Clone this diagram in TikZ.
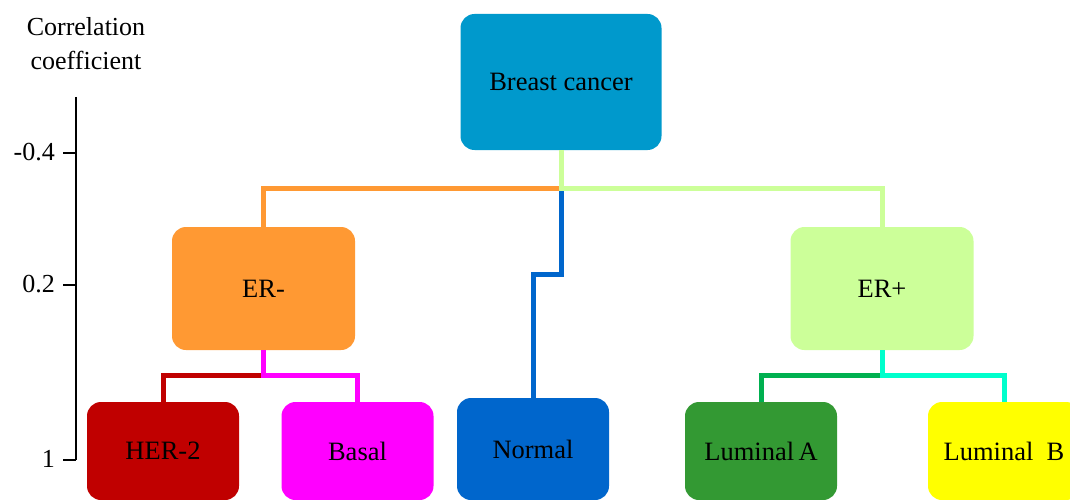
\documentclass[tikz,border=0pt]{standalone}
\usepackage{fontspec}
\setmainfont{Liberation Serif}
\definecolor{cBC}{HTML}{0099CC}
\definecolor{cERn}{HTML}{FF9933}
\definecolor{cERp}{HTML}{CCFF99}
\definecolor{cHER}{HTML}{C00000}
\definecolor{cBas}{HTML}{FF00FF}
\definecolor{cNor}{HTML}{0066CC}
\definecolor{cLA}{HTML}{339933}
\definecolor{cLB}{HTML}{FFFF00}
\definecolor{cLAline}{HTML}{00B050}
\definecolor{cLBline}{HTML}{00FFCC}
\begin{document}
\begin{tikzpicture}[x=1pt,y=-1pt,
  box/.style={rounded corners=14pt, inner sep=0pt, font=\fontsize{26.5}{30}\selectfont, text=black},
  bigbox/.style={box, minimum width=183pt, minimum height=123pt},
  leafbox/.style={box, minimum width=152pt, minimum height=98pt},
  conn/.style={line width=5pt},
  axisline/.style={line width=1.6pt, black},
  ticklabel/.style={anchor=east, inner sep=0pt, font=\fontsize{26}{30}\selectfont}]
\useasboundingbox (0,0) rectangle (1070,500);
\fill[white] (0,0) rectangle (1070,500);

% axis
\draw[axisline] (76,97) -- (76,460);
\draw[axisline] (63,153) -- (76,153);
\draw[axisline] (63,285) -- (76,285);
\draw[axisline] (63,460) -- (76,460);
\node[ticklabel] (t1) at (55,152) {-0.4};
\node[ticklabel] (t2) at (55,284) {0.2};
\node[ticklabel] (t3) at (55,459) {1};
\node[align=center, inner sep=0pt, font=\fontsize{26}{34}\selectfont] (ax) at (86,44) {Correlation\\coefficient};

% nodes
\node[box, fill=cBC, minimum width=201pt, minimum height=136pt] (bc) at (561,82) {Breast cancer};
\node[bigbox, fill=cERn] (ern) at (263.5,288.5) {ER-};
\node[bigbox, fill=cERp] (erp) at (882,288.5) {ER+};
\node[leafbox, fill=cHER] (her) at (163,451) {HER-2};
\node[leafbox, fill=cBas] (bas) at (357.5,451) {Basal};
\node[leafbox, fill=cNor, minimum height=102pt] (nor) at (533,449) {Normal};
\node[leafbox, fill=cLA] (lua) at (761,451) {Luminal\,A};
\node[leafbox, fill=cLB] (lub) at (1004,451) {Luminal~~B};

% connectors
\coordinate (j) at ([yshift=-38pt]bc.south);
\draw[conn, cNor] (j) -- ++(0,86) -| (nor.north);
\draw[conn, cERn] (j) -| (ern.north);
\draw[conn, cERp] (bc.south) -- (j) -| (erp.north);

\coordinate (k) at ([yshift=-25pt]ern.south);
\draw[conn, cHER] (k) -| (her.north);
\draw[conn, cBas] (ern.south) -- (k) -| (bas.north);

\coordinate (m) at ([yshift=-25pt]erp.south);
\draw[conn, cLAline] (m) -| (lua.north);
\draw[conn, cLBline] (erp.south) -- (m) -| (lub.north);
\end{tikzpicture}
\end{document}
